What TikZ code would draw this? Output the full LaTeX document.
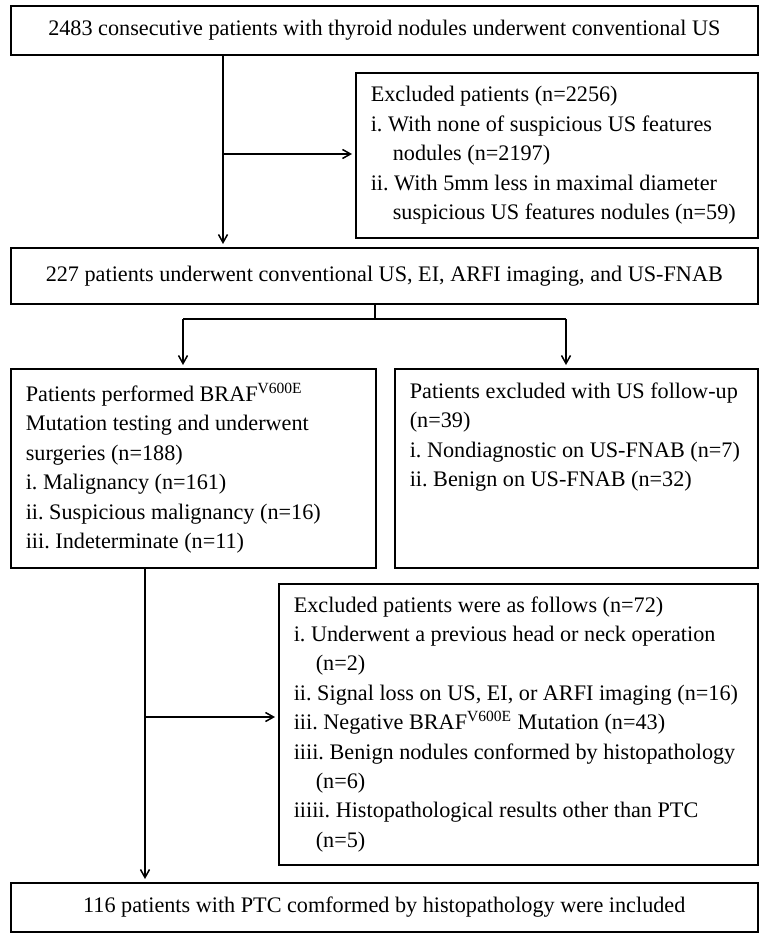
\documentclass[tikz,border=0pt]{standalone}
\usepackage{fontspec}
\setmainfont{Liberation Serif}
\usetikzlibrary{arrows.meta}
\frenchspacing
\hyphenpenalty=10000
\exhyphenpenalty=10000

\begin{document}
\begin{tikzpicture}[x=0.5pt,y=-0.5pt,
        box/.style={draw,line width=0.8pt,anchor=north west,inner xsep=7.5pt,
        inner ysep=0pt,font=\fontsize{11.1}{14.7}\selectfont},
        wide/.style={box,minimum width=373.5pt,minimum height=24.5pt,align=center},
        list/.style={box,align=flush left},
        arr/.style={line width=0.75pt,-{Straight Barb[length=4pt,width=4.5pt]},
        shorten >=1.5pt}]
    \useasboundingbox (0,0) rectangle (766,936);

    \node[wide] (start) at (10,5)
        {2483 consecutive patients with thyroid nodules underwent conventional US};
    \node[list,text width=186pt,minimum height=82.5pt] (excl) at (355,72)
        {Excluded patients (n=2256)\\
        i. With none of suspicious US features\\
        \hspace*{11pt}nodules (n=2197)\\
        ii. With 5mm less in maximal diameter\\
        \hspace*{11pt}suspicious US features nodules (n=59)};
    \node[wide,minimum height=28pt] (imaging) at (10,247)
        {227 patients underwent conventional US, EI, ARFI imaging, and US-FNAB};
    \node[list,text width=167.5pt,minimum height=99.5pt] (surg) at (10,368)
        {Patients performed BRAF\textsuperscript{V600E}\\
        Mutation testing and underwent\\
        surgeries (n=188)\\
        i. Malignancy (n=161)\\
        ii. Suspicious malignancy (n=16)\\
        iii. Indeterminate (n=11)};
    \node[list,text width=166.5pt,minimum height=99.5pt] (follow) at (394,368)
        {Patients excluded with US follow-up\\
        (n=39)\\
        i. Nondiagnostic on US-FNAB (n=7)\\
        ii. Benign on US-FNAB (n=32)\\
        \strut\\
        \strut};
    \node[list,text width=224.5pt,minimum height=140.5pt] (excl2) at (278,583)
        {Excluded patients were as follows (n=72)\\
        i. Underwent a previous head or neck operation\\
        \hspace*{11pt}(n=2)\\
        ii. Signal loss on US, EI, or ARFI imaging (n=16)\\
        iii. Negative BRAF\textsuperscript{V600E} Mutation (n=43)\\
        iiii. Benign nodules conformed by histopathology\\
        \hspace*{11pt}(n=6)\\
        iiiii. Histopathological results other than PTC\\
        \hspace*{11pt}(n=5)};
    \node[wide] (final) at (10,882)
        {116 patients with PTC comformed by histopathology were included};

    % first exclusion
    \coordinate (j1) at (223,154);
    \draw[arr] (j1 |- start.south) -- (j1 |- imaging.north);
    \draw[arr] (j1) -- (j1 -| excl.west);

    % split
    \coordinate (sl) at (183,319);
    \coordinate (sr) at (566,319);
    \draw[line width=0.75pt] (375,0 |- imaging.south) -- (375,319);
    \draw[line width=0.75pt] (sl) -- (sr);
    \draw[arr] (sl) -- (sl |- surg.north);
    \draw[arr] (sr) -- (sr |- follow.north);

    % second exclusion
    \coordinate (j2) at (145,717);
    \draw[arr] (j2 |- surg.south) -- (j2 |- final.north);
    \draw[arr] (j2) -- (j2 -| excl2.west);
\end{tikzpicture}
\end{document}
